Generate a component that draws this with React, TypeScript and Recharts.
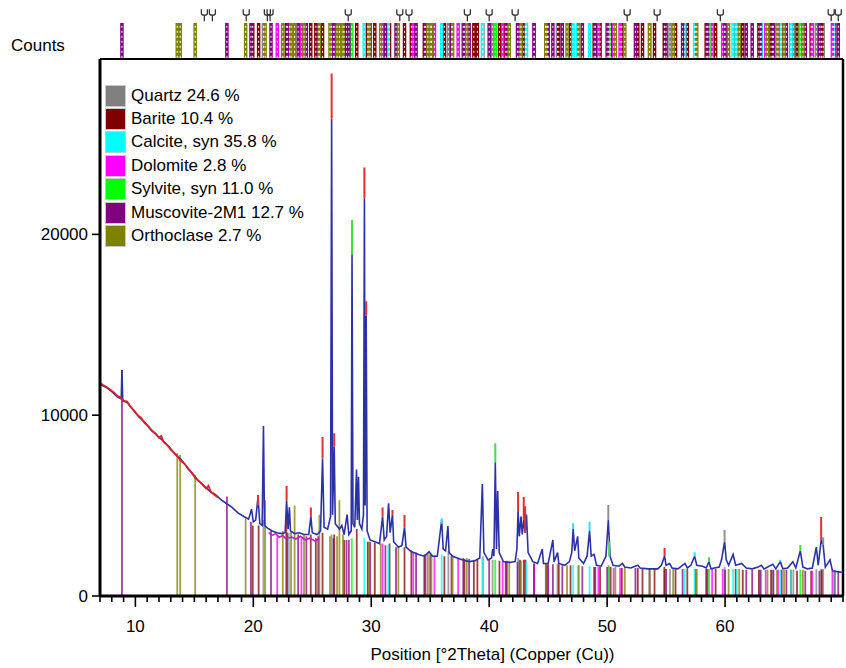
import React from 'react';
import { ComposedChart, Line, XAxis, YAxis, ReferenceLine, Scatter } from 'recharts';

const FONT = '"Liberation Sans", Arial, sans-serif';

// ---------- phases ----------
const phaseNames = ['Quartz 24.6 %', 'Barite 10.4 %', 'Calcite, syn 35.8 %', 'Dolomite 2.8 %', 'Sylvite, syn 11.0 %', 'Muscovite-2M1 12.7 %', 'Orthoclase 2.7 %'];
const phaseColors = ['#808080', '#800000', '#00ffff', '#ff00ff', '#00ff00', '#800080', '#808000'];

// [position 2θ, stick height in counts]
const quartzSticks: [number, number][] = [[20.86, 4200], [26.64, 3400], [36.54, 2500], [39.47, 2200], [40.29, 2000], [42.45, 2100], [45.79, 1800], [50.14, 1700], [54.87, 1500], [55.33, 1500], [59.96, 1600], [64.03, 1450], [65.79, 1450], [67.74, 1500], [68.14, 1500], [68.32, 1500]];
const bariteSticks: [number, number][] = [[19.95, 3900], [20.45, 3900], [22.8, 4400], [24.87, 3400], [25.3, 3200], [25.87, 3500], [26.86, 3400], [27.7, 3100], [28.77, 3700], [29.7, 3000], [30.3, 2950], [31.55, 2900], [32.82, 2700], [33.4, 2500], [34.5, 2300], [36.2, 2200], [37.9, 2050], [38.7, 2000], [39.0, 2000], [40.87, 1950], [41.4, 1900], [42.61, 2000], [42.93, 2000], [43.08, 2000], [44.82, 1800], [45.9, 1750], [46.9, 1700], [48.9, 1600], [49.4, 1600], [50.3, 1600], [51.25, 1550], [52.6, 1550], [53.0, 1500], [54.02, 1500], [54.85, 1600], [55.8, 1500], [56.8, 1500], [57.5, 1500], [58.4, 1500], [59.2, 1500], [60.9, 1500], [61.5, 1450], [62.87, 1450], [63.9, 1450], [64.8, 1450], [65.6, 1450], [66.1, 1400], [67.3, 1400], [68.2, 1450], [69.3, 1400]];
const calciteSticks: [number, number][] = [[23.06, 3500], [29.41, 3200], [31.44, 2800], [35.97, 2300], [39.42, 2100], [43.16, 1900], [47.12, 1700], [47.51, 1700], [48.51, 1650], [56.58, 1500], [57.42, 1500], [60.68, 1500], [61.0, 1500], [63.07, 1450], [64.68, 1450], [65.6, 1450], [69.2, 1400]];
const dolomiteSticks: [number, number][] = [[22.03, 3300], [24.08, 3200], [30.96, 2900], [33.56, 2400], [35.36, 2250], [37.37, 2100], [41.14, 1950], [43.82, 1800], [44.95, 1750], [49.26, 1600], [50.55, 1550], [51.1, 1550], [58.9, 1500], [59.8, 1500], [63.45, 1450], [64.5, 1450], [67.4, 1400], [69.1, 1400]];
const sylviteSticks: [number, number][] = [[28.35, 3200], [40.51, 2000], [50.17, 1650], [58.64, 1500], [66.38, 1450]];
const muscoviteSticks: [number, number][] = [[8.86, 12500], [17.76, 5500], [19.8, 4100], [21.5, 3600], [22.9, 3500], [23.8, 3400], [24.5, 3300], [25.5, 3300], [26.8, 3200], [27.9, 3100], [28.1, 3100], [29.9, 3000], [31.2, 2800], [32.1, 2700], [33.8, 2400], [34.6, 2300], [35.0, 2300], [36.8, 2200], [37.8, 2100], [38.3, 2050], [40.0, 2000], [41.5, 1950], [42.4, 1900], [43.8, 1800], [45.0, 1750], [45.4, 1750], [46.2, 1700], [47.9, 1650], [49.0, 1600], [50.0, 1600], [52.4, 1550], [53.6, 1500], [55.0, 1500], [56.4, 1500], [58.5, 1500], [60.0, 1450], [61.8, 1450], [62.3, 1450], [63.0, 1450], [64.1, 1450], [65.2, 1450], [66.8, 1400], [68.0, 1400], [69.6, 1400]];
const orthoclaseSticks: [number, number][] = [[13.55, 7900], [13.8, 7800], [15.07, 6700], [19.35, 4300], [21.0, 5300], [22.5, 3600], [23.2, 3600], [23.5, 5000], [24.3, 3400], [25.6, 4500], [26.5, 3300], [27.1, 3300], [27.3, 5300], [27.6, 3400], [29.8, 3000], [30.8, 2900], [32.3, 2700], [34.8, 2400], [35.1, 2300], [36.9, 2200], [38.1, 2100], [41.7, 1950], [42.7, 1950], [44.8, 1800], [46.6, 1700], [47.6, 1700], [50.7, 1600], [51.5, 1600], [53.6, 1550], [55.6, 1500], [57.6, 1500], [60.3, 1500], [61.2, 1500], [63.6, 1450], [64.4, 1450], [65.0, 1450], [66.6, 1450]];
const phaseSticks = [quartzSticks, bariteSticks, calciteSticks, dolomiteSticks, sylviteSticks, muscoviteSticks, orthoclaseSticks];

// ---------- measured profile [2θ, counts] ----------
const observed: [number, number][] = [
  [7.0, 11700], [7.5, 11550], [8.0, 11300], [8.5, 11000], [8.8, 10900], [8.86, 12500], [8.93, 10800], [9.3, 10700], [9.8, 10300], [10.3, 9900], [10.8, 9600], [11.3, 9200], [11.8, 8900], [12.3, 8600], [12.8, 8300], [13.3, 7900], [13.8, 7600], [14.3, 7200], [14.8, 6800], [15.3, 6400], [15.8, 6100], [16.3, 5800], [16.8, 5600], [17.3, 5300], [17.76, 5100], [18.2, 4900], [18.7, 4600], [19.2, 4400], [19.6, 4250], [19.85, 4800], [20.0, 4100], [20.2, 4200], [20.4, 5500], [20.55, 4000], [20.75, 3900], [20.86, 9400], [20.95, 3900], [21.2, 3750], [21.6, 3600], [22.0, 3500], [22.4, 3450], [22.7, 3500], [22.82, 5300], [22.95, 3700], [23.06, 4900], [23.15, 3600], [23.5, 3450], [23.9, 3500], [24.3, 3400], [24.7, 3400], [24.88, 4400], [25.0, 3500], [25.4, 3400], [25.7, 3600], [25.87, 7600], [26.0, 3800], [26.3, 3700], [26.55, 4400], [26.64, 26400], [26.72, 4500], [26.86, 8250], [26.95, 4000], [27.3, 3700], [27.5, 3900], [27.7, 3400], [27.95, 4500], [28.1, 3400], [28.3, 3600], [28.37, 18900], [28.45, 4000], [28.6, 3800], [28.75, 7000], [28.82, 4200], [28.92, 6600], [29.0, 4000], [29.2, 3700], [29.34, 4500], [29.42, 22000], [29.48, 5000], [29.57, 15500], [29.65, 3600], [29.9, 3100], [30.3, 3000], [30.7, 2900], [30.96, 4400], [31.1, 3100], [31.3, 3300], [31.47, 5130], [31.6, 3500], [31.8, 4500], [31.9, 3000], [32.3, 2700], [32.6, 2800], [32.82, 3800], [32.95, 2700], [33.3, 2500], [33.6, 2400], [34.0, 2300], [34.5, 2200], [34.9, 2450], [35.2, 2200], [35.6, 2200], [35.97, 4200], [36.1, 2600], [36.3, 2500], [36.5, 3870], [36.6, 2400], [36.9, 2200], [37.3, 2100], [37.7, 2000], [38.3, 1900], [38.8, 1950], [39.2, 2100], [39.42, 6190], [39.55, 2400], [39.9, 2000], [40.2, 2100], [40.3, 2600], [40.4, 2200], [40.52, 7400], [40.62, 2600], [40.72, 5800], [40.85, 2400], [41.2, 1900], [41.7, 1850], [42.2, 1900], [42.35, 2600], [42.45, 4700], [42.55, 3300], [42.7, 4400], [42.8, 3400], [42.93, 4200], [43.05, 3500], [43.16, 4500], [43.3, 2400], [43.7, 1900], [44.1, 1800], [44.5, 2600], [44.6, 1800], [45.0, 1800], [45.4, 3100], [45.5, 1900], [45.8, 2400], [45.9, 1800], [46.4, 1700], [46.8, 1900], [47.0, 2400], [47.12, 3700], [47.25, 2500], [47.5, 3300], [47.6, 2100], [48.0, 1800], [48.3, 2200], [48.51, 3600], [48.65, 2200], [48.9, 2300], [49.1, 1700], [49.5, 1650], [49.9, 2200], [50.1, 4200], [50.25, 2200], [50.5, 1700], [51.0, 1650], [51.3, 1800], [51.5, 1600], [52.0, 1550], [52.6, 1700], [52.8, 1550], [53.5, 1500], [54.3, 1500], [54.6, 1700], [54.87, 2200], [55.0, 1700], [55.3, 1800], [55.5, 1550], [56.0, 1500], [56.6, 1800], [56.8, 1550], [57.1, 1700], [57.42, 2200], [57.6, 1700], [58.1, 1650], [58.4, 1550], [58.64, 1900], [58.8, 1500], [59.5, 1600], [59.7, 2000], [59.96, 3000], [60.1, 2000], [60.3, 1700], [60.68, 2300], [60.9, 1700], [61.4, 1800], [61.8, 1550], [62.3, 1500], [62.8, 1600], [63.07, 1700], [63.3, 1500], [64.05, 1750], [64.3, 1500], [64.68, 1900], [64.9, 1500], [65.3, 1550], [65.75, 1900], [66.0, 1550], [66.38, 2500], [66.6, 1600], [67.0, 1500], [67.4, 1550], [67.74, 2700], [67.9, 1700], [68.15, 3100], [68.32, 2800], [68.5, 1600], [68.9, 2000], [69.1, 1400], [69.5, 1350], [70.0, 1300],
];

// calculated profile at low angles (red, noisy)
const lowAngleCalc: [number, number][] = [[7.0, 11800], [7.3, 11650], [7.6, 11550], [7.9, 11400], [8.2, 11250], [8.5, 11050], [8.7, 11000], [9.0, 10800], [9.3, 10750], [9.6, 10450], [9.9, 10250], [10.2, 10000], [10.5, 9850], [10.8, 9550], [11.1, 9400], [11.4, 9150], [11.7, 9000], [12.0, 8750], [12.2, 8850], [12.4, 8500], [12.7, 8350], [13.0, 8100], [13.3, 7900], [13.6, 7700], [13.9, 7450], [14.2, 7300], [14.5, 7000], [14.8, 6800], [15.1, 6500], [15.4, 6350], [15.7, 6150], [16.0, 5950], [16.2, 6100], [16.4, 5750], [16.7, 5600], [17.0, 5450]];
const dolomiteProfile: [number, number][] = [[21.3, 3500], [21.6, 3350], [21.9, 3450], [22.2, 3250], [22.5, 3350], [22.7, 3200], [23.3, 3250], [23.6, 3150], [24.0, 3300], [24.4, 3100], [24.8, 3200], [25.2, 3050], [25.6, 3150]];

// peak tips of calculated / phase profiles [2θ, from, to]
const redTips: [number, number, number][] = [[20.4, 5000, 5580], [22.82, 5300, 6080], [24.88, 4400, 4900], [25.87, 7600, 8800], [26.64, 26400, 28900], [26.86, 8250, 9000], [29.42, 22000, 23700], [29.57, 15500, 16300], [30.96, 4400, 4900], [31.8, 4500, 4750], [32.82, 3800, 4480], [42.45, 4700, 5750], [42.93, 4200, 5470], [43.05, 3500, 4970], [54.87, 2200, 2650], [68.15, 3100, 4370]];
const grayTips: [number, number, number][] = [[50.1, 4200, 5030], [59.96, 3000, 3650], [68.32, 2800, 3250]];
const cyanTips: [number, number, number][] = [[35.97, 4000, 4300], [47.12, 3700, 4030], [48.51, 3600, 4100], [57.42, 2200, 2420], [64.68, 1900, 2000]];
const greenTips: [number, number, number][] = [[28.37, 18900, 20800], [40.52, 7400, 8450], [50.17, 2200, 3000], [58.64, 1900, 2150], [66.38, 2500, 2820]];

// peak-list markers in the top strip
const peakMarks: number[] = [15.85, 16.53, 19.4, 21.19, 21.42, 28.05, 32.42, 33.2, 38.15, 40.0, 42.2, 51.7, 54.24, 59.6, 69.0, 69.6];

const yTicks = [0, 10000, 20000];
const xTicks = [7, 8, 9, 10, 11, 12, 13, 14, 15, 16, 17, 18, 19, 20, 21, 22, 23, 24, 25, 26, 27, 28, 29, 30, 31, 32, 33, 34, 35, 36, 37, 38, 39, 40, 41, 42, 43, 44, 45, 46, 47, 48, 49, 50, 51, 52, 53, 54, 55, 56, 57, 58, 59, 60, 61, 62, 63, 64, 65, 66, 67, 68, 69, 70];
const majorTicks = [10, 20, 30, 40, 50, 60];
const X_DOMAIN: [number, number] = [7, 70];
const Y_MAX = 29700;

// ---------- table builders ----------
const toRows = (pts: [number, number][]) => pts.map(([x, y]) => ({ x, y }));
const stickRows = (s: [number, number][]) => s.flatMap(([x, h]) => [{ x, y: 0 }, { x, y: h }, { x, y: null }]);
const tipRows = (t: [number, number, number][]) => t.flatMap(([x, a, b]) => [{ x, y: a }, { x, y: b }, { x, y: null }]);
const stripRows = (s: [number, number][]) => s.flatMap(([x]) => [{ x, y: 0.02 }, { x, y: 0.61 }, { x, y: null }]);
const markRows = peakMarks.map((x) => ({ x, y: 0.64 }));

const XTick = (props: any) => {
  const { x, y, payload } = props;
  const v = payload.value;
  const major = majorTicks.includes(v);
  return (
    <g>
      <line x1={x} x2={x} y1={y} y2={y + (major ? 11 : 6)} stroke="#000" strokeWidth={1.6} />
      {major && (
        <text x={x} y={y + 36} textAnchor="middle" fontSize={17} fontFamily={FONT} fill="#000">{v}</text>
      )}
    </g>
  );
};

const PsiShape = (props: any) => {
  const { cx, cy } = props;
  return (
    <path
      d={`M${cx} ${cy} L${cx} ${cy - 6} M${cx - 3} ${cy - 12} L${cx - 3} ${cy - 8} Q${cx - 3} ${cy - 6} ${cx} ${cy - 6} Q${cx + 3} ${cy - 6} ${cx + 3} ${cy - 8} L${cx + 3} ${cy - 12}`}
      stroke="#333"
      strokeWidth={1.3}
      fill="none"
    />
  );
};

const AxisTitle = (props: any) => {
  const { viewBox } = props;
  return (
    <text x={viewBox.x + viewBox.width / 2 + 21} y={660} textAnchor="middle" fontSize={17} fontFamily={FONT} fill="#000">
      Position [°2Theta] (Copper (Cu))
    </text>
  );
};

export default function App() {
  return (
    <div style={{ position: 'absolute', left: 0, top: 0, width: 846, height: 668, background: '#fff', overflow: 'hidden' }}>
      {/* main diffractogram */}
      <div style={{ position: 'absolute', left: 0, top: 0 }}>
        <ComposedChart width={846} height={668} margin={{ top: 59, right: 3, bottom: 0, left: 40 }}>
          <XAxis
            type="number"
            dataKey="x"
            domain={X_DOMAIN}
            allowDataOverflow
            ticks={xTicks}
            interval={0}
            height={72}
            tickSize={0}
            tickMargin={0}
            tickLine={false}
            tick={<XTick />}
            axisLine={{ stroke: '#000', strokeWidth: 3 }}
            label={<AxisTitle />}
          />
          <YAxis
            type="number"
            dataKey="y"
            domain={[0, Y_MAX]}
            allowDataOverflow
            ticks={yTicks}
            interval={0}
            width={60}
            tickSize={8}
            tickMargin={4}
            tick={{ fontSize: 17, fontFamily: FONT, fill: '#000' }}
            tickLine={{ stroke: '#000', strokeWidth: 1.6 }}
            axisLine={{ stroke: '#000', strokeWidth: 3 }}
          />
          <ReferenceLine y={Y_MAX} stroke="#000" strokeWidth={2} />
          <ReferenceLine x={70} stroke="#000" strokeWidth={2.5} />
          {phaseSticks.map((s, i) => (
            <Line key={'st' + i} data={stickRows(s)} dataKey="y" stroke={phaseColors[i]} strokeOpacity={0.75} strokeWidth={1.8} dot={false} isAnimationActive={false} connectNulls={false} />
          ))}
          <Line data={toRows(observed)} dataKey="y" stroke="#2b32a6" strokeWidth={1.6} dot={false} isAnimationActive={false} />
          <Line data={toRows(dolomiteProfile)} dataKey="y" stroke="#c020c0" strokeWidth={1.6} dot={false} isAnimationActive={false} />
          <Line data={toRows(lowAngleCalc)} dataKey="y" stroke="#e02020" strokeWidth={1.8} dot={false} isAnimationActive={false} />
          <Line data={tipRows(redTips)} dataKey="y" stroke="#e03030" strokeWidth={2} dot={false} isAnimationActive={false} connectNulls={false} />
          <Line data={tipRows(grayTips)} dataKey="y" stroke="#909090" strokeWidth={2} dot={false} isAnimationActive={false} connectNulls={false} />
          <Line data={tipRows(cyanTips)} dataKey="y" stroke="#30e0f0" strokeWidth={2} dot={false} isAnimationActive={false} connectNulls={false} />
          <Line data={tipRows(greenTips)} dataKey="y" stroke="#40e040" strokeWidth={2} dot={false} isAnimationActive={false} connectNulls={false} />
        </ComposedChart>
      </div>

      {/* reference-pattern strip above the plot */}
      <div style={{ position: 'absolute', left: 0, top: 0 }}>
        <ComposedChart width={846} height={59} margin={{ top: 0, right: 3, bottom: 0, left: 100 }}>
          <XAxis type="number" dataKey="x" domain={X_DOMAIN} allowDataOverflow hide />
          <YAxis type="number" dataKey="y" domain={[0, 1]} allowDataOverflow hide />
          {phaseSticks.map((s, i) => (
            <Line key={'ss' + i} data={stripRows(s)} dataKey="y" stroke={phaseColors[i]} strokeWidth={3.5} dot={false} isAnimationActive={false} connectNulls={false} />
          ))}
          {phaseSticks.map((s, i) => (
            <Line key={'sd' + i} data={stripRows(s)} dataKey="y" stroke="#ffffff" strokeWidth={1} strokeDasharray="2 3" dot={false} isAnimationActive={false} connectNulls={false} />
          ))}
          <Scatter data={markRows} dataKey="y" shape={<PsiShape />} isAnimationActive={false} />
        </ComposedChart>
      </div>

      {/* Counts label */}
      <div style={{ position: 'absolute', left: 11, top: 36, fontSize: 17, fontFamily: FONT, color: '#000', lineHeight: 'normal' }}>Counts</div>

      {/* legend */}
      <div style={{ position: 'absolute', left: 105, top: 84, fontFamily: FONT, fontSize: 17, color: '#000' }}>
        {phaseNames.map((n, i) => (
          <div key={n} style={{ display: 'flex', alignItems: 'center', height: 23.4 }}>
            <div style={{ width: 19, height: 20, background: phaseColors[i], border: '1px solid #c8c8c8', boxSizing: 'content-box' }} />
            <span style={{ marginLeft: 5, whiteSpace: 'nowrap' }}>{n}</span>
          </div>
        ))}
      </div>
    </div>
  );
}
